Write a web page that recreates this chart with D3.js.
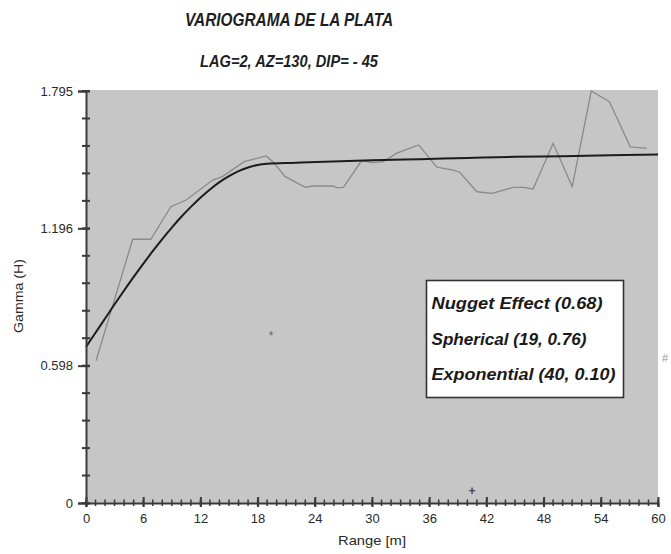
<!DOCTYPE html>
<html>
<head>
<meta charset="utf-8">
<script src="https://cdn.jsdelivr.net/npm/d3@7"></script>
<style>
  html, body { margin: 0; padding: 0; background: #fff; }
  svg { display: block; }
  text { font-family: "Liberation Sans", Arial, sans-serif; }
</style>
</head>
<body>
<svg id="chart" width="671" height="554"></svg>
<script>
// ---- data ----
const titleText = "VARIOGRAMA DE LA PLATA";
const subtitleText = "LAG=2, AZ=130, DIP= - 45";
const xLabel = "Range [m]";
const yLabel = "Gamma (H)";

const expLag = [1.05, 4.9, 6.8, 8.9, 10.5, 13.3, 14.3, 16.6, 18.9, 19.6, 20.9, 23.0, 23.8, 25.9, 26.3, 27.0,
                28.9, 30.1, 31.2, 32.6, 34.9, 35.9, 36.8, 38.4, 39.2, 41.0, 42.6, 44.8, 45.9, 46.9, 49.0, 51.0,
                53.0, 54.9, 57.1, 58.8];
const expGamma = [0.620, 1.149, 1.149, 1.291, 1.320, 1.407, 1.422, 1.487, 1.512, 1.487, 1.422, 1.375, 1.381, 1.381, 1.374, 1.375,
                  1.491, 1.483, 1.487, 1.524, 1.560, 1.509, 1.463, 1.451, 1.441, 1.356, 1.349, 1.375, 1.375, 1.368, 1.567, 1.378,
                  1.795, 1.748, 1.552, 1.545];

// fitted model curve
const modelLag = [0, 1, 2, 3, 4, 5, 6, 7, 8, 9, 10, 11, 12, 13, 14, 15, 16, 17, 18, 19, 22, 25, 30, 35, 40, 45, 50, 55, 60];
const modelGamma = [0.680, 0.742, 0.804, 0.866, 0.926, 0.985, 1.042, 1.097, 1.150, 1.200, 1.247, 1.290, 1.330, 1.366, 1.398,
                    1.424, 1.446, 1.462, 1.473, 1.478, 1.482, 1.487, 1.493, 1.498, 1.503, 1.508, 1.511, 1.515, 1.518];

const xTickValues = [0, 6, 12, 18, 24, 30, 36, 42, 48, 54, 60];
const yTickValues = [0, 0.5983, 1.1967, 1.795];
const yTickLabels = ["0", "0.598", "1.196", "1.795"];

const legendLines = ["Nugget Effect (0.68)", "Spherical (19, 0.76)", "Exponential (40, 0.10)"];

// ---- layout ----
const svg = d3.select("#chart");
const L = 86, R = 658, T = 91, B = 503;
const x = d3.scaleLinear().domain([0, 60]).range([L, R]);
const y = d3.scaleLinear().domain([0, 1.795]).range([B, T]);

// plot background
svg.append("rect").attr("x", L).attr("y", T - 1).attr("width", R - L).attr("height", B - T + 1)
  .attr("fill", "#c6c6c6");

// titles
svg.append("text").attr("x", 289).attr("y", 26).attr("text-anchor", "middle")
  .attr("font-size", 19).attr("font-weight", "bold").attr("font-style", "italic").attr("fill", "#1e1e1e")
  .attr("textLength", 208).attr("lengthAdjust", "spacingAndGlyphs").text(titleText);
svg.append("text").attr("x", 289).attr("y", 66.5).attr("text-anchor", "middle")
  .attr("font-size", 16.5).attr("font-weight", "bold").attr("font-style", "italic").attr("fill", "#1e1e1e")
  .attr("textLength", 178).attr("lengthAdjust", "spacingAndGlyphs").text(subtitleText);

// lines
const line = d3.line().x(d => x(d[0])).y(d => y(d[1]));
svg.append("path").datum(d3.zip(expLag, expGamma)).attr("d", line)
  .attr("fill", "none").attr("stroke", "#8a8a8a").attr("stroke-width", 1.3);
svg.append("path").datum(d3.zip(modelLag, modelGamma)).attr("d", d3.line().curve(d3.curveMonotoneX).x(d => x(d[0])).y(d => y(d[1])))
  .attr("fill", "none").attr("stroke", "#1c1c1c").attr("stroke-width", 2);

// axes
const axColor = "#3a3a3a";
const yMinor = d3.range(0, 16).map(i => i * 1.795 / 15);
svg.append("g").selectAll("line").data(yMinor).join("line")
  .attr("x1", L - 4).attr("x2", L + 4).attr("y1", d => y(d)).attr("y2", d => y(d))
  .attr("stroke", axColor).attr("stroke-width", 2);
const yAxis = svg.append("g").attr("transform", `translate(${L},0)`)
  .call(d3.axisLeft(y).tickValues(yTickValues).tickFormat((d, i) => yTickLabels[i]).tickSize(8).tickPadding(5));
yAxis.select(".domain").attr("stroke", axColor).attr("stroke-width", 2);
yAxis.selectAll(".tick line").attr("x1", 4).attr("stroke", axColor).attr("stroke-width", 2);
yAxis.selectAll(".tick text").attr("font-size", 13).attr("fill", "#2a2a2a")
  .attr("font-family", "Liberation Sans, Arial, sans-serif");

const xMinor = d3.range(0, 61);
svg.append("g").selectAll("line").data(xMinor).join("line")
  .attr("x1", d => x(d)).attr("x2", d => x(d)).attr("y1", B - 3.5).attr("y2", B + 3)
  .attr("stroke", axColor).attr("stroke-width", 1.5);
const xAxis = svg.append("g").attr("transform", `translate(0,${B})`)
  .call(d3.axisBottom(x).tickValues(xTickValues).tickFormat(d3.format("d")).tickSize(4).tickPadding(7));
xAxis.select(".domain").attr("stroke", axColor).attr("stroke-width", 2);
xAxis.selectAll(".tick line").attr("y1", -6).attr("y2", 4).attr("stroke", axColor).attr("stroke-width", 2);
xAxis.selectAll(".tick text").attr("font-size", 13).attr("fill", "#2a2a2a")
  .attr("font-family", "Liberation Sans, Arial, sans-serif");

// axis titles
svg.append("text").attr("x", (L + R) / 2).attr("y", 545).attr("text-anchor", "middle")
  .attr("font-size", 13).attr("fill", "#2a2a2a")
  .attr("textLength", 68).attr("lengthAdjust", "spacingAndGlyphs").text(xLabel);
svg.append("text").attr("transform", "translate(23,296) rotate(-90)").attr("text-anchor", "middle")
  .attr("font-size", 13).attr("fill", "#2a2a2a")
  .attr("textLength", 74).attr("lengthAdjust", "spacingAndGlyphs").text(yLabel);

// legend
const lg = svg.append("g");
lg.append("rect").attr("x", 426.5).attr("y", 280.5).attr("width", 197).attr("height", 117)
  .attr("fill", "#fff").attr("stroke", "#333").attr("stroke-width", 1.6);
const legendBase = [308.5, 344.5, 380];
const legendLen = [171, 155, 184];
lg.selectAll("text").data(legendLines).join("text")
  .attr("x", 431.5).attr("y", (d, i) => legendBase[i])
  .attr("font-size", 17).attr("font-weight", "bold").attr("font-style", "italic").attr("fill", "#1a1a1a")
  .attr("textLength", (d, i) => legendLen[i]).attr("lengthAdjust", "spacingAndGlyphs")
  .text(d => d);

// stray marks in the original
svg.append("text").attr("x", 271).attr("y", 340).attr("text-anchor", "middle")
  .attr("font-size", 12).attr("fill", "#666").text("*");
svg.append("text").attr("x", 472).attr("y", 495).attr("text-anchor", "middle")
  .attr("font-size", 12).attr("font-weight", "bold").attr("fill", "#444").text("+");
svg.append("text").attr("x", 665).attr("y", 362).attr("text-anchor", "middle")
  .attr("font-size", 11).attr("fill", "#999").text("#");
</script>
</body>
</html>
